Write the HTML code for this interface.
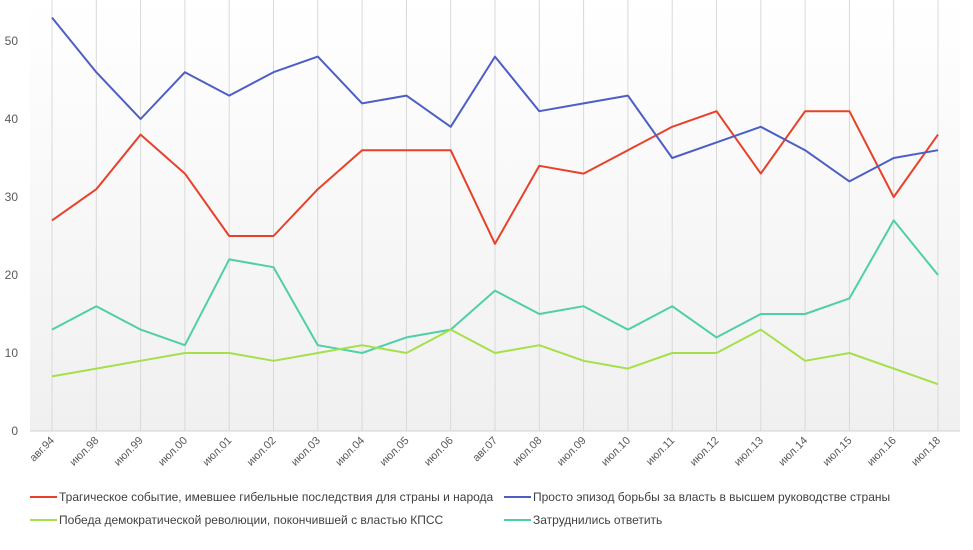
<!DOCTYPE html>
<html><head><meta charset="utf-8"><style>body{margin:0;background:#fff}svg{display:block;font-family:"Liberation Sans",sans-serif}</style></head><body>
<svg width="973" height="550" xmlns="http://www.w3.org/2000/svg">
<defs><linearGradient id="g" x1="0" y1="0" x2="0" y2="1"><stop offset="0" stop-color="#ffffff"/><stop offset="1" stop-color="#f0f0f0"/></linearGradient></defs>
<rect x="30" y="0" width="930" height="431" fill="url(#g)"/>
<g id="grid" stroke="#d9d9d9" stroke-width="1"></g>
<line x1="30" y1="431" x2="960" y2="431" stroke="#d0d0d0"/>
<g font-size="12" fill="#595959" text-anchor="end" id="yl"></g>
<g font-size="11" fill="#595959" id="xl"></g>
<g id="lines" fill="none" stroke-width="2" stroke-linejoin="round"></g>
<g font-size="12" fill="#404040">
<line x1="30" y1="497" x2="57" y2="497" stroke="#e8412a" stroke-width="2"/><text x="59" y="501">Трагическое событие, имевшее  гибельные  последствия для страны и народа</text>
<line x1="504" y1="497" x2="531" y2="497" stroke="#4d5ec4" stroke-width="2"/><text x="533" y="501">Просто эпизод борьбы за власть в высшем руководстве  страны</text>
<line x1="30" y1="520" x2="57" y2="520" stroke="#a4e04a" stroke-width="2"/><text x="59" y="524">Победа демократической  революции,  покончившей  с властью КПСС</text>
<line x1="504" y1="520" x2="531" y2="520" stroke="#4fcfa8" stroke-width="2"/><text x="533" y="524">Затруднились ответить</text>
</g>
</svg>
<script>
const ns="http://www.w3.org/2000/svg";
const cats=["авг.94","июл.98","июл.99","июл.00","июл.01","июл.02","июл.03","июл.04","июл.05","июл.06","авг.07","июл.08","июл.09","июл.10","июл.11","июл.12","июл.13","июл.14","июл.15","июл.16","июл.18"];
const X=i=>52+i*44.3, Y=v=>431-v*7.8;
const mk=(t,a,p)=>{const e=document.createElementNS(ns,t);for(const k in a)e.setAttribute(k,a[k]);if(p)p.appendChild(e);return e;};
const grid=document.getElementById("grid"),xl=document.getElementById("xl"),yl=document.getElementById("yl"),ln=document.getElementById("lines");
cats.forEach((c,i)=>{mk("line",{x1:X(i),y1:0,x2:X(i),y2:431},grid);const t=mk("text",{transform:`translate(${X(i)+3},${441}) rotate(-45)`,"text-anchor":"end"},xl);t.textContent=c;});
for(let v=0;v<=50;v+=10){const t=mk("text",{x:18,y:Y(v)+4},yl);t.textContent=v;}
const S=[["#e8412a",[27,31,38,33,25,25,31,36,36,36,24,34,33,36,39,41,33,41,41,30,38]],
["#4d5ec4",[53,46,40,46,43,46,48,42,43,39,48,41,42,43,35,37,39,36,32,35,36]],
["#4fcfa8",[13,16,13,11,22,21,11,10,12,13,18,15,16,13,16,12,15,15,17,27,20]],
["#a4e04a",[7,8,9,10,10,9,10,11,10,13,10,11,9,8,10,10,13,9,10,8,6]]];
S.forEach(([c,d])=>mk("polyline",{stroke:c,points:d.map((v,i)=>X(i)+","+Y(v)).join(" ")},ln));
</script>
</body></html>
